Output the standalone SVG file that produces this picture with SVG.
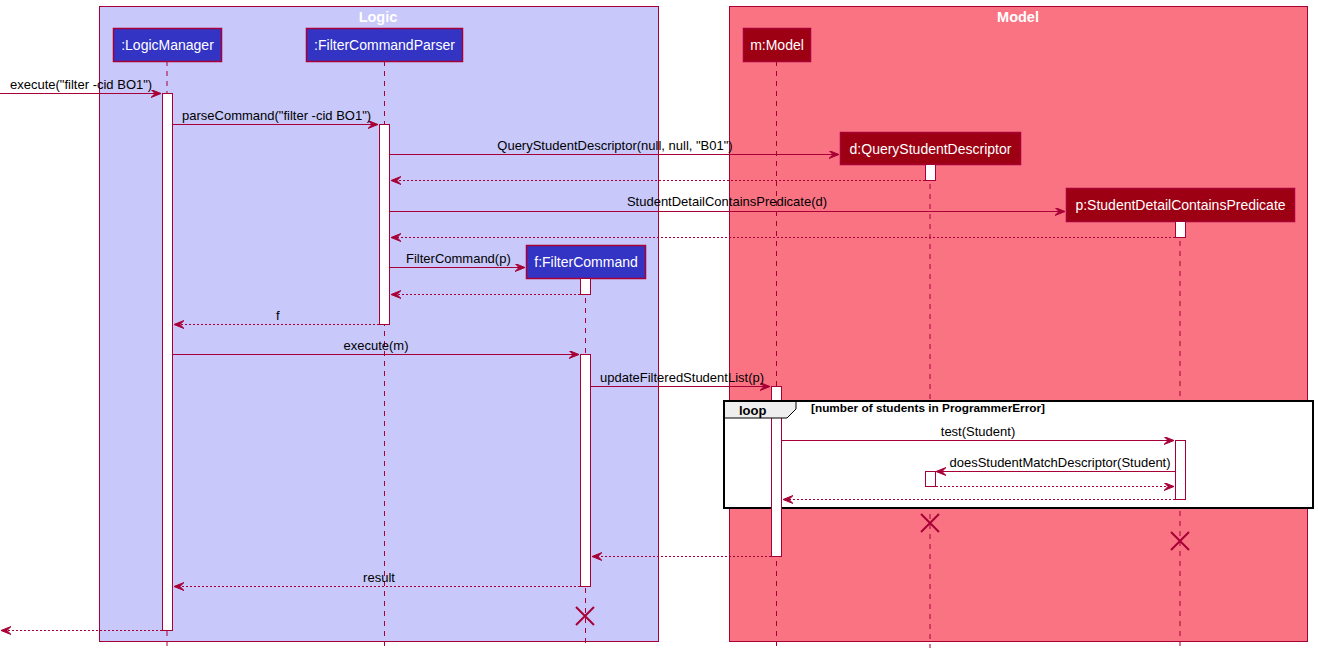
<svg xmlns="http://www.w3.org/2000/svg" width="1318" height="654" viewBox="0 0 1318 654">
  <style>
    text { font-family: "Liberation Sans", Arial, sans-serif; }
    .box-title { font-size: 14.5px; font-weight: bold; fill: #FFFFFF; text-anchor: middle; }
    .part { stroke: #A80036; stroke-width: 1.5; }
    .logic { fill: #3333C4; }
    .model { fill: #9D0012; }
    .pname { font-size: 14px; fill: #FFFFFF; text-anchor: middle; }
    .life { stroke: #A80036; stroke-width: 1; stroke-dasharray: 5 5; fill: none; }
    .act { fill: #FFFFFF; stroke: #A80036; stroke-width: 1; }
    .msg { stroke: #A80036; stroke-width: 1; fill: none; marker-end: url(#arrow); }
    .ret { stroke: #A80036; stroke-width: 1; fill: none; stroke-dasharray: 2 2; marker-end: url(#arrow); }
    .lbl { font-size: 13px; fill: #000000; }
    .mid { text-anchor: middle; }
    .kill { stroke: #A80036; stroke-width: 2; }
  </style>
  <defs>
    <marker id="arrow" markerUnits="userSpaceOnUse" markerWidth="12" markerHeight="10" refX="10" refY="4" orient="auto">
      <path d="M0,0 L10,4 L0,8 L4,4 Z" fill="#A80036" stroke="#A80036" stroke-width="1"/>
    </marker>
  </defs>

  <!-- component boxes -->
  <g id="box-logic">
    <rect x="99.5" y="6.5" width="559" height="635" fill="#C8C8FA" stroke="#A80036" stroke-width="1"/>
    <text class="box-title" x="378" y="22">Logic</text>
  </g>
  <g id="box-model">
    <rect x="729.5" y="6.5" width="578" height="635" fill="#FA7383" stroke="#A80036" stroke-width="1"/>
    <text class="box-title" x="1018" y="22">Model</text>
  </g>

  <!-- lifelines -->
  <g id="lifelines">
    <line class="life" x1="167" y1="61" x2="167" y2="648"/>
    <line class="life" x1="384.5" y1="61" x2="384.5" y2="648"/>
    <line class="life" x1="776.5" y1="61" x2="776.5" y2="648"/>
    <line class="life" x1="930" y1="164" x2="930" y2="648"/>
    <line class="life" x1="1180" y1="221" x2="1180" y2="648"/>
    <line class="life" x1="585.5" y1="278" x2="585.5" y2="648"/>
  </g>

  <!-- participants -->
  <g id="logic-manager">
    <rect class="part logic" x="113.5" y="28.5" width="108" height="33"/>
    <text class="pname" x="167.5" y="50">:LogicManager</text>
  </g>
  <g id="filter-command-parser">
    <rect class="part logic" x="306.5" y="28.5" width="156" height="33"/>
    <text class="pname" x="384.5" y="50">:FilterCommandParser</text>
  </g>
  <g id="model">
    <rect class="part model" x="743.5" y="28.5" width="67" height="33"/>
    <text class="pname" x="777" y="50">m:Model</text>
  </g>
  <g id="query-student-descriptor">
    <rect class="part model" x="840.5" y="132.5" width="180" height="32"/>
    <text class="pname" x="930.5" y="154">d:QueryStudentDescriptor</text>
  </g>
  <g id="student-detail-contains-predicate">
    <rect class="part model" x="1066.5" y="188.5" width="228" height="33"/>
    <text class="pname" x="1180.5" y="210">p:StudentDetailContainsPredicate</text>
  </g>
  <g id="filter-command">
    <rect class="part logic" x="526.5" y="245.5" width="119" height="33"/>
    <text class="pname" x="586" y="267">f:FilterCommand</text>
  </g>

  <!-- loop fragment -->
  <g id="loop-fragment">
    <rect x="724" y="401" width="589" height="107" fill="#FFFFFF" stroke="#000000" stroke-width="2"/>
  </g>

  <!-- activation bars -->
  <g id="activations">
    <rect class="act" x="162.5" y="93.5" width="10" height="537"/>
    <rect class="act" x="379.5" y="124.5" width="10" height="200"/>
    <rect class="act" x="925.5" y="164.5" width="10" height="16"/>
    <rect class="act" x="1175.5" y="221.5" width="10" height="16"/>
    <rect class="act" x="580.5" y="278.5" width="10" height="16"/>
    <rect class="act" x="580.5" y="354.5" width="10" height="232"/>
    <rect class="act" x="771.5" y="386.5" width="10" height="170"/>
    <rect class="act" x="1175.5" y="440.5" width="10" height="59"/>
    <rect class="act" x="925.5" y="471.5" width="10" height="15"/>
  </g>

  <!-- loop header drawn over the bars -->
  <g id="loop-header">
    <path d="M724,401 L796,401 L796,409 L787,418 L724,418 Z" fill="#EEEEEE" stroke="#000000" stroke-width="1"/>
    <line x1="724" y1="401" x2="1313" y2="401" stroke="#000000" stroke-width="2"/>
    <line x1="724" y1="400" x2="724" y2="509" stroke="#000000" stroke-width="2"/>
    <text x="739" y="415" font-size="13" font-weight="bold" fill="#000000">loop</text>
    <text x="811" y="412" font-size="11.8" font-weight="bold" fill="#000000">[number of students in ProgrammerError]</text>
  </g>

  <!-- messages -->
  <g id="connectors">
    <line class="msg" x1="0" y1="93.5" x2="161" y2="93.5"/>
    <text class="lbl" x="10" y="89">execute("filter -cid BO1")</text>

    <line class="msg" x1="173" y1="124.5" x2="378" y2="124.5"/>
    <text class="lbl" x="182" y="120">parseCommand("filter -cid BO1")</text>

    <line class="msg" x1="390" y1="154.5" x2="839" y2="154.5"/>
    <text class="lbl mid" x="615" y="150">QueryStudentDescriptor(null, null, "B01")</text>

    <line class="ret" x1="925" y1="180.5" x2="391" y2="180.5"/>

    <line class="msg" x1="390" y1="211.5" x2="1065" y2="211.5"/>
    <text class="lbl mid" x="727" y="206">StudentDetailContainsPredicate(d)</text>

    <line class="ret" x1="1175" y1="237.5" x2="391" y2="237.5"/>

    <line class="msg" x1="390" y1="267.5" x2="525" y2="267.5"/>
    <text class="lbl" x="406" y="263">FilterCommand(p)</text>

    <line class="ret" x1="580" y1="294.5" x2="391" y2="294.5"/>

    <line class="ret" x1="379" y1="324.5" x2="174" y2="324.5"/>
    <text class="lbl" x="276" y="320">f</text>

    <line class="msg" x1="173" y1="354.5" x2="579" y2="354.5"/>
    <text class="lbl mid" x="376" y="350">execute(m)</text>

    <line class="msg" x1="591" y1="386.5" x2="770" y2="386.5"/>
    <text class="lbl" x="600" y="382">updateFilteredStudentList(p)</text>

    <line class="msg" x1="782" y1="440.5" x2="1174" y2="440.5"/>
    <text class="lbl mid" x="978" y="436">test(Student)</text>

    <line class="msg" x1="1175" y1="471.5" x2="936" y2="471.5"/>
    <text class="lbl mid" x="1060" y="467">doesStudentMatchDescriptor(Student)</text>

    <line class="ret" x1="936" y1="486.5" x2="1174" y2="486.5"/>

    <line class="ret" x1="1175" y1="499.5" x2="783" y2="499.5"/>

    <line class="ret" x1="771" y1="556.5" x2="592" y2="556.5"/>

    <line class="ret" x1="580" y1="586.5" x2="174" y2="586.5"/>
    <text class="lbl mid" x="379" y="582">result</text>

    <line class="ret" x1="162" y1="630.5" x2="1" y2="630.5"/>
  </g>

  <!-- destruction marks -->
  <g id="destroy-marks">
    <path class="kill" d="M921,514 L939,532 M939,514 L921,532"/>
    <path class="kill" d="M1171,532 L1189,550 M1189,532 L1171,550"/>
    <path class="kill" d="M576,607 L594,625 M594,607 L576,625"/>
  </g>
</svg>
